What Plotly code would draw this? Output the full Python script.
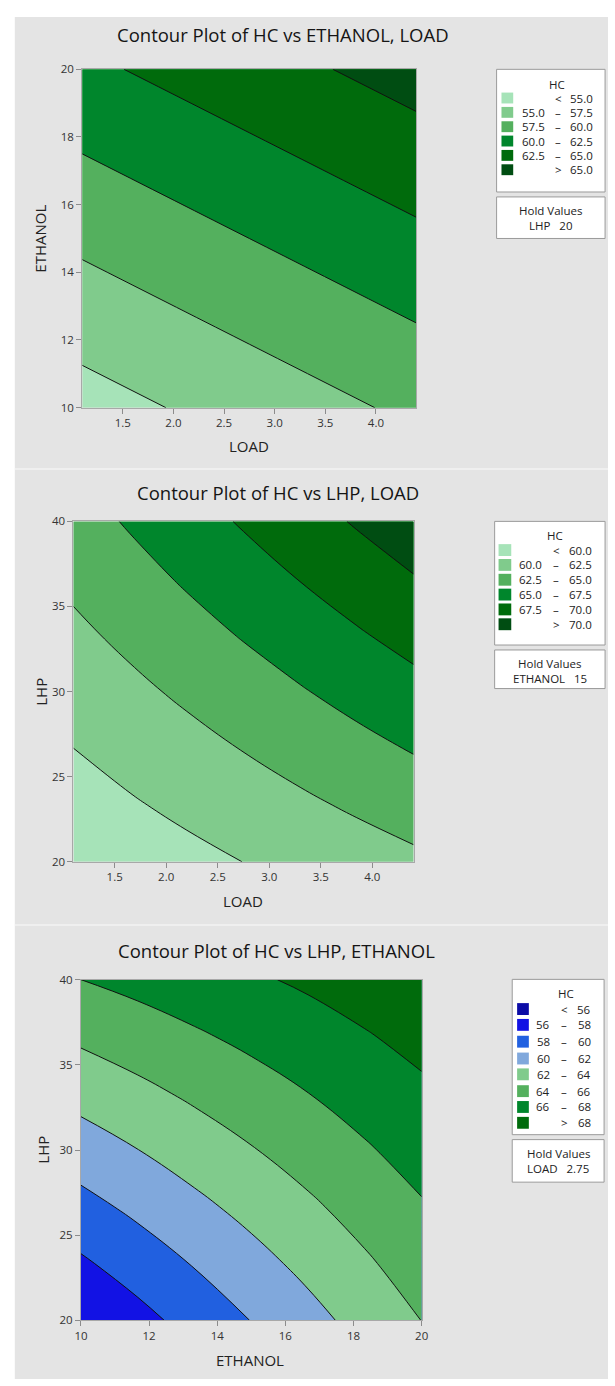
import plotly.graph_objects as go

W, H = 615, 1386

# ---------------- data ----------------
# Panel 1: HC vs ETHANOL, LOAD (hold LHP = 20)
load_1 = [1.1, 2.75, 4.4]
ethanol_1 = [10, 15, 20]
hc_1 = [[54.0, 56.0, 58.0],
        [58.0, 60.0, 62.0],
        [62.0, 64.0, 66.0]]
levels_1 = [55.0, 57.5, 60.0, 62.5, 65.0]
colors_1 = ["#a6e3b8", "#80cb8c", "#54b05e", "#00862c", "#006b0c", "#004d12"]

# Panel 2: HC vs LHP, LOAD (hold ETHANOL = 15)
load_2 = [1.1, 1.65, 2.2, 2.75, 3.3, 3.85, 4.4]
lhp_2 = [20.0, 23.33, 26.67, 30.0, 33.33, 36.67, 40.0]
hc_2 = [[58.00, 58.67, 59.34, 60.02, 60.69, 61.36, 62.03],
        [59.00, 59.77, 60.53, 61.30, 62.07, 62.83, 63.60],
        [60.00, 60.86, 61.72, 62.59, 63.45, 64.31, 65.17],
        [61.00, 61.96, 62.92, 63.87, 64.83, 65.79, 66.75],
        [62.00, 63.05, 64.11, 65.16, 66.21, 67.26, 68.32],
        [63.00, 64.15, 65.30, 66.44, 67.59, 68.74, 69.89],
        [64.00, 65.24, 66.49, 67.73, 68.97, 70.22, 71.46]]
levels_2 = [60.0, 62.5, 65.0, 67.5, 70.0]
colors_2 = ["#a6e3b8", "#80cb8c", "#54b05e", "#00862c", "#006b0c", "#004d12"]

# Panel 3: HC vs LHP, ETHANOL (hold LOAD = 2.75)
ethanol_3 = [10.0, 11.67, 13.33, 15.0, 16.67, 18.33, 20.0]
lhp_3 = [20.0, 23.33, 26.67, 30.0, 33.33, 36.67, 40.0]
hc_3 = [[56.05, 57.38, 58.71, 60.04, 61.36, 62.69, 64.02],
        [57.71, 58.91, 60.12, 61.32, 62.52, 63.73, 64.93],
        [59.37, 60.45, 61.53, 62.60, 63.68, 64.76, 65.84],
        [61.03, 61.98, 62.94, 63.89, 64.84, 65.80, 66.75],
        [62.68, 63.51, 64.34, 65.17, 65.99, 66.82, 67.65],
        [64.34, 65.04, 65.75, 66.45, 67.15, 67.86, 68.56],
        [66.00, 66.58, 67.16, 67.74, 68.31, 68.89, 69.47]]
levels_3 = [56, 58, 60, 62, 64, 66, 68]
colors_3 = ["#0c0ca6", "#1212e4", "#2160e0", "#80a8dc", "#80cb8c", "#54b05e", "#00862c", "#006b0c"]

titles = ["Contour Plot of HC vs ETHANOL, LOAD",
          "Contour Plot of HC vs LHP, LOAD",
          "Contour Plot of HC vs LHP, ETHANOL"]
hold_1 = "LHP   20"
hold_2 = "ETHANOL   15"
hold_3 = "LOAD   2.75"

FONT = "Open Sans"

def px(x):
    return x / W

def py(y):
    return 1 - y / H

def stepped(colors):
    n = len(colors)
    sc = []
    for i, c in enumerate(colors):
        lo = 0 if i == 0 else (i - 0.5) / (n - 1)
        hi = 1 if i == n - 1 else (i + 0.5) / (n - 1)
        sc.append([lo, c])
        sc.append([hi, c])
    return sc

fig = go.Figure()

def add_contour(x, y, z, levels, colors, xa, ya):
    step = levels[1] - levels[0]
    fig.add_trace(go.Contour(
        x=x, y=y, z=z, xaxis=xa, yaxis=ya,
        autocontour=False,
        contours=dict(start=levels[0], end=levels[-1], size=step,
                      coloring="fill", showlines=True),
        line=dict(color="#111111", width=1, smoothing=1.2),
        colorscale=stepped(colors), showscale=False, hoverinfo="skip"))

add_contour(load_1, ethanol_1, hc_1, levels_1, colors_1, "x", "y")
add_contour(load_2, lhp_2, hc_2, levels_2, colors_2, "x2", "y2")
add_contour(ethanol_3, lhp_3, hc_3, levels_3, colors_3, "x3", "y3")

axis_common = dict(showgrid=False, zeroline=False, ticks="outside", ticklen=5,
                   tickcolor="#8c8c8c", showline=True, linecolor="#a8a8a8",
                   linewidth=1, mirror=True,
                   tickfont=dict(family=FONT, size=11.5, color="#333333"))

panels = [
    dict(x0=77, x1=419, y0=62, y1=404, xr=[1.1, 4.4], yr=[10, 20],
         xt=[1.5, 2.0, 2.5, 3.0, 3.5, 4.0], xfmt=".1f", yt=[10, 12, 14, 16, 18, 20]),
    dict(x0=68, x1=416, y0=519, y1=863, xr=[1.1, 4.4], yr=[20, 40],
         xt=[1.5, 2.0, 2.5, 3.0, 3.5, 4.0], xfmt=".1f", yt=[20, 25, 30, 35, 40]),
    dict(x0=75.7, x1=424.3, y0=982.3, y1=1326.7, xr=[10, 20], yr=[20, 40],
         xt=[10, 12, 14, 16, 18, 20], xfmt="d", yt=[20, 25, 30, 35, 40]),
]

layout = dict(width=W, height=H, margin=dict(l=0, r=0, t=0, b=0),
              paper_bgcolor="white", plot_bgcolor="#e4e4e4", showlegend=False)
for i, p in enumerate(panels):
    sfx = "" if i == 0 else str(i + 1)
    layout["xaxis" + sfx] = dict(axis_common, domain=[px(p["x0"]), px(p["x1"])],
                                 range=p["xr"], tickvals=p["xt"], tickformat=p["xfmt"],
                                 anchor="y" + sfx)
    layout["yaxis" + sfx] = dict(axis_common, domain=[py(p["y1"]), py(p["y0"])],
                                 range=p["yr"], tickvals=p["yt"], anchor="x" + sfx)
fig.update_layout(**layout)

shapes = []
annotations = []

def rect(x0, y0, x1, y1, fill, line=None, lw=1, layer="below"):
    shapes.append(dict(type="rect", xref="paper", yref="paper",
                       x0=px(x0), x1=px(x1), y0=py(y1), y1=py(y0),
                       fillcolor=fill, line=dict(color=line or fill, width=lw if line else 0),
                       layer=layer))

def text(x, y, s, size=11, anchor="center", angle=0, color="#222222"):
    annotations.append(dict(x=px(x), y=py(y), xref="paper", yref="paper", text=s,
                            showarrow=False, xanchor=anchor, yanchor="middle",
                            textangle=angle,
                            font=dict(family=FONT, size=size, color=color)))

# background panels
rect(8, 9, 615, 1386, "#e4e4e4")
shapes.append(dict(type="line", xref="paper", yref="paper", x0=px(8), x1=1,
                   y0=py(466), y1=py(466), line=dict(color="#f3f3f3", width=1.5), layer="below"))
shapes.append(dict(type="line", xref="paper", yref="paper", x0=px(8), x1=1,
                   y0=py(927), y1=py(927), line=dict(color="#f3f3f3", width=1.5), layer="below"))

# titles and axis titles
text(282, 27, titles[0], size=18.5, color="#151515")
text(277, 490, titles[1], size=18.5, color="#151515")
text(276, 953, titles[2], size=18.5, color="#151515")
text(248, 443, "LOAD", size=15)
text(242, 903, "LOAD", size=15)
text(249, 1367, "ETHANOL", size=15)
text(34, 233, "ETHANOL", size=15, angle=-90)
text(34, 691, "LHP", size=15, angle=-90)
text(36, 1154, "LHP", size=15, angle=-90)

def fmt(v, dec):
    return f"{v:.{dec}f}"

def legend(box, hold_box, title_xy, sw_x, rows_y, sw_h, levels, colors, dec,
           left_x, dash_x, right_x, hold_text):
    rect(*box, "white", "#9a9a9a", 1, layer="above")
    rect(*hold_box, "white", "#9a9a9a", 1, layer="above")
    text(title_xy[0], title_xy[1], "HC", size=11.5)
    n = len(colors)
    for i, c in enumerate(colors):
        yc = rows_y[i]
        rect(sw_x[0], yc - sw_h / 2, sw_x[1], yc + sw_h / 2, c, layer="above")
        if i == 0:
            text(dash_x, yc, "&lt;", size=11.5)
            text(right_x, yc, fmt(levels[0], dec), size=11.5, anchor="right")
        elif i == n - 1:
            text(dash_x, yc, "&gt;", size=11.5)
            text(right_x, yc, fmt(levels[-1], dec), size=11.5, anchor="right")
        else:
            text(left_x, yc, fmt(levels[i - 1], dec), size=11.5, anchor="right")
            text(dash_x, yc, "–", size=11.5)
            text(right_x, yc, fmt(levels[i], dec), size=11.5, anchor="right")
    cx = (hold_box[0] + hold_box[2]) / 2
    text(cx, hold_box[1] + 14, "Hold Values", size=11.5)
    text(cx, hold_box[1] + 29, hold_text, size=11.5)

legend((501, 62, 612, 186), (501, 191, 612, 233), (563, 77), (506, 518),
       [91, 105.5, 120, 134.5, 149, 163.5], 11, levels_1, colors_1, 1,
       553, 564, 602, hold_1)
legend((499, 519, 612, 644), (499, 649, 612, 688), (561, 533), (503, 516),
       [548, 563, 578, 593, 608, 623], 12, levels_2, colors_2, 1,
       550, 562, 601, hold_2)
legend((517, 982, 611, 1139), (517, 1144, 611, 1187), (572, 996), (522, 534),
       [1012, 1028, 1045, 1062, 1078, 1095, 1111, 1127], 12, levels_3, colors_3, 0,
       558, 570, 600, hold_3)

fig.update_layout(shapes=shapes, annotations=annotations)
fig.write_html("out.html", config={"displayModeBar": False})
